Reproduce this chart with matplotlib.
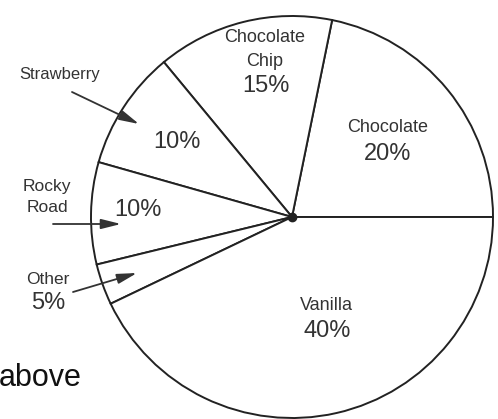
import matplotlib.pyplot as plt

plt.rcParams['font.family'] = ['Liberation Sans', 'DejaVu Sans']

# flavours, counter-clockwise from the right-hand horizontal radius
flavours = ['Chocolate', 'Chocolate Chip', 'Strawberry', 'Rocky Road', 'Other', 'Vanilla']
# slice sizes as drawn in the picture (the drawing is not exactly to scale)
drawn_share = [21.8, 14.2, 9.6, 8.2, 3.3, 42.9]
# percentages printed on the chart
pct_labels = ['20%', '15%', '10%', '10%', '5%', '40%']

W, H = 498, 419
ink = '#222222'
txt = '#333333'

fig = plt.figure(figsize=(W / 100, H / 100), dpi=100)
ax = fig.add_axes([0, 0, 1, 1])

ax.pie(drawn_share, startangle=0, counterclock=True,
       center=(292, H - 217), radius=201,
       wedgeprops=dict(facecolor='white', edgecolor=ink, linewidth=1.4))
ax.plot(292, H - 217, 'o', ms=6, color=ink)

ax.set_xlim(0, W)
ax.set_ylim(0, H)
ax.set_aspect('equal')
ax.axis('off')

def put(x, y, s, size=13):
    ax.text(x, H - y, s, ha='center', va='center', fontsize=size, color=txt)

# name labels (pixel positions)
put(265, 38, 'Chocolate')
put(265, 61, 'Chip')
put(266, 86, pct_labels[1], 17)
put(388, 127, 'Chocolate')
put(388, 154, pct_labels[0], 17)
put(60, 74, 'Strawberry', 12)
put(177, 142, pct_labels[2], 17)
put(47, 186, 'Rocky', 12.5)
put(47, 208, 'Road', 12.5)
put(138, 210, pct_labels[3], 17)
put(48, 279, 'Other', 12.5)
put(48, 303, pct_labels[4], 17)
put(326, 305, 'Vanilla')
put(327, 331, pct_labels[5], 17)

arrow = dict(arrowstyle='-|>,head_length=0.6,head_width=0.15', color=txt,
             lw=1.3, mutation_scale=20, shrinkA=0, shrinkB=0)
ax.annotate('', xy=(139, H - 124), xytext=(72, H - 92), arrowprops=arrow)
ax.annotate('', xy=(121, H - 224), xytext=(53, H - 224), arrowprops=arrow)
ax.annotate('', xy=(137, H - 273), xytext=(73, H - 292), arrowprops=arrow)

ax.text(-1, H - 378, 'above', ha='left', va='center', fontsize=22, color='#111111')

fig.savefig('out.png', dpi=100)
